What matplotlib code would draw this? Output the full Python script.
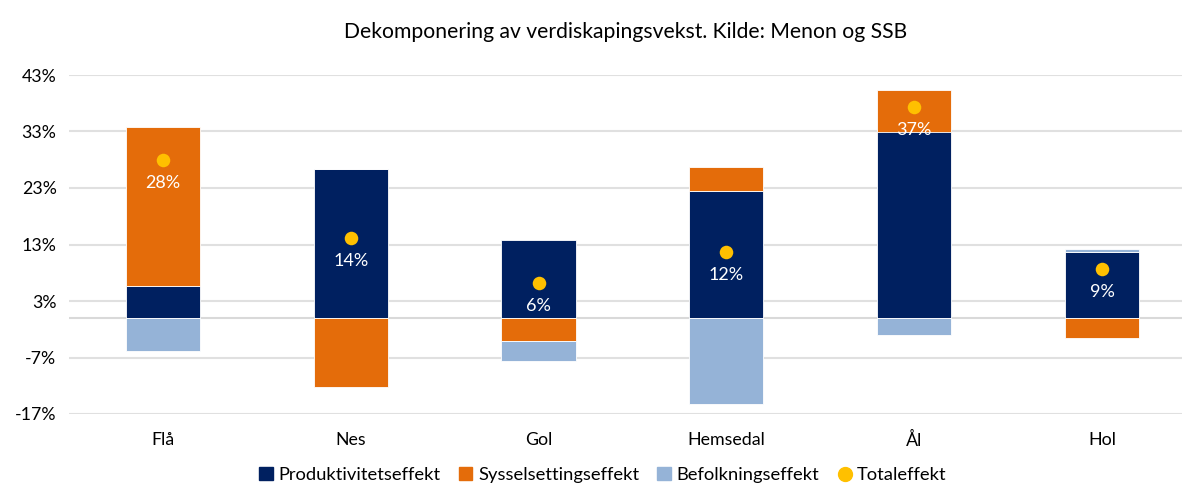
import matplotlib.pyplot as plt
import numpy as np
from matplotlib.lines import Line2D
from matplotlib.patches import Patch

plt.rcParams['font.family'] = ['Lato', 'DejaVu Sans']

# data (percent)
kommuner = ['Flå', 'Nes', 'Gol', 'Hemsedal', 'Ål', 'Hol']
produktivitet = [5.7, 26.4, 13.8, 22.5, 33.0, 11.7]
sysselsetting = [28.1, -12.2, -4.1, 4.2, 7.4, -3.5]
befolkning = [-5.8, 0.0, -3.5, -15.2, -3.0, 0.5]
totaleffekt = [28.0, 14.2, 6.2, 11.6, 37.4, 8.7]
yticks = [-17, -7, 3, 13, 23, 33, 43]

c_prod = '#002060'
c_syss = '#E46C0A'
c_bef = '#95B3D7'
c_tot = '#FFC000'

fig = plt.figure(figsize=(11.82, 4.84), dpi=100)
ax = fig.add_axes([69/1182, 70/484, 1 - 69/1182, 339/484])

x = np.arange(len(kommuner))
pos_bottom = np.zeros(len(x))
neg_bottom = np.zeros(len(x))
for vals, col in [(produktivitet, c_prod), (sysselsetting, c_syss), (befolkning, c_bef)]:
    vals = np.array(vals)
    bottoms = np.where(vals >= 0, pos_bottom, neg_bottom)
    ax.bar(x, vals, width=0.395, bottom=bottoms, color=col,
           edgecolor='white', linewidth=0.6, zorder=3)
    pos_bottom += np.where(vals >= 0, vals, 0)
    neg_bottom += np.where(vals < 0, vals, 0)

ax.scatter(x, totaleffekt, s=95, color=c_tot, zorder=5, linewidths=0)
for xi, t in zip(x, totaleffekt):
    ax.annotate('%.0f%%' % t, (xi, t), xytext=(0, -16.5), textcoords='offset points',
                ha='center', va='center', color='white', fontsize=13, zorder=6)

ax.set_ylim(-17, 43)
ax.set_xlim(-0.5, 5.426)
ax.set_yticks(yticks)
ax.set_yticklabels(['%d%%' % v for v in yticks], fontsize=12.8)
ax.set_xticks(x)
ax.set_xticklabels(kommuner, fontsize=12.8)
ax.tick_params(length=0, pad=9)
ax.tick_params(axis='x', pad=13)
for s in ax.spines.values():
    s.set_visible(False)
ax.grid(axis='y', color='#e0e0e0', linewidth=1.5, zorder=0)
ax.axhline(0, color='#d9d9d9', linewidth=1.5, zorder=1)

ax.set_title('Dekomponering av verdiskapingsvekst. Kilde: Menon og SSB',
             fontsize=15.2, pad=27)

handles = [Patch(color=c_prod, label='Produktivitetseffekt'),
           Patch(color=c_syss, label='Sysselsettingseffekt'),
           Patch(color=c_bef, label='Befolkningseffekt'),
           Line2D([], [], marker='o', linestyle='none', markersize=10,
                  markerfacecolor=c_tot, markeredgecolor=c_tot, label='Totaleffekt')]
fig.legend(handles=handles, loc='center', bbox_to_anchor=(0.51, 9/484), ncol=4,
           frameon=False, fontsize=13.2, handlelength=0.75, handleheight=0.75,
           handletextpad=0.3, columnspacing=1.0)

fig.savefig('out.png', dpi=100)
